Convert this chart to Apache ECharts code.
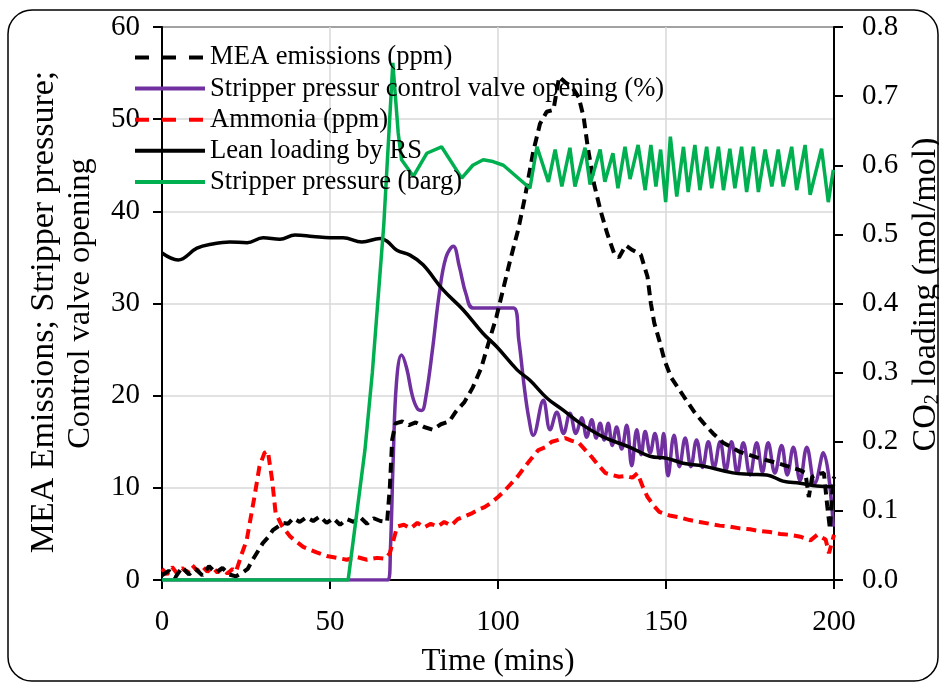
<!DOCTYPE html>
<html>
<head>
<meta charset="utf-8">
<script src="https://cdn.jsdelivr.net/npm/echarts@6/dist/echarts.min.js"></script>
<style>
  html, body { margin: 0; padding: 0; background: #fff; overflow: hidden; }
  #chart { width: 939px; height: 684px; }
</style>
</head>
<body>
<div id="chart"></div>
<script>
// Time axis ticks (mins)
const timeTicks = [0, 50, 100, 150, 200];

// MEA emissions (ppm)
const meaT = [0, 2, 4, 6, 8, 10, 12, 14, 16, 18, 20, 22, 24, 25.5, 27, 28.5, 30, 31.5, 33, 34.5, 36, 37.5, 39, 41, 43, 45, 47, 49, 51, 53, 55, 57, 59, 61, 63, 65, 67, 67.8, 68.5, 69.5, 71.5, 73.5, 75.5, 78, 80.5, 83, 85.5, 87.5, 90, 92.5, 95, 97, 99.5, 101.5, 103.5, 106, 108, 110.5, 112.5, 114.5, 116.5, 118.2, 120, 122, 124, 125.5, 126.7, 128.5, 130.5, 132.5, 134.5, 136, 138, 140, 142.5, 144.5, 145.5, 146.5, 148, 149.5, 151.5, 153.5, 155.5, 158.5, 161, 164, 167, 172, 177, 183, 190, 191.5, 192.5, 193.5, 195, 197, 198, 198.8, 199.5, 200];
const meaV = [0.5, 1.0, 0.3, 1.4, 0.6, 1.2, 0.5, 1.5, 0.8, 1.3, 0.6, 0.4, 0.8, 1.2, 2.2, 3.1, 4.0, 4.6, 5.4, 5.8, 6.2, 6.1, 6.7, 6.3, 6.8, 6.4, 6.9, 6.2, 6.7, 6.0, 6.6, 6.3, 6.8, 6.1, 6.7, 6.4, 6.3, 10.0, 15.2, 17.0, 17.2, 16.8, 17.1, 16.6, 16.3, 16.9, 17.2, 18.3, 19.3, 20.9, 23.0, 25.5, 28.5, 31.5, 34.5, 38.0, 41.5, 46.5, 49.5, 50.8, 51.0, 54.6, 54.0, 53.5, 52.4, 50.2, 47.0, 43.1, 40.1, 37.6, 35.5, 35.0, 36.3, 35.8, 35.3, 32.9, 30.0, 27.9, 26.0, 23.9, 22.0, 20.9, 19.8, 18.2, 17.1, 15.9, 14.9, 13.9, 13.3, 12.7, 11.9, 11.6, 9.0, 11.2, 11.5, 11.6, 8.0, 5.5, 9.5, 11.2];

// Stripper pressure control valve opening (%)
const valveT = [0, 67.3, 68.0, 68.8, 69.8, 71.3, 72.8, 74.5, 76.0, 77.3, 78.5, 80.5, 82.5, 84.5, 86.7, 88.5, 90.5, 92.7, 104.6, 106.2, 107.8, 109.2, 110.5, 113.5, 115.5, 117.5, 119.5, 121.4, 123.2, 124.9, 126.4, 127.9, 129.2, 130.4, 131.6, 132.8, 134.0, 135.3, 136.8, 138.3, 139.8, 141.3, 142.6, 143.8, 145.3, 146.7, 148.2, 149.3, 150.6, 152.4, 154.0, 155.7, 157.4, 159.1, 160.9, 162.6, 164.3, 166.1, 167.8, 169.5, 171.2, 173.0, 175.0, 177.0, 178.7, 180.4, 182.4, 184.4, 186.1, 187.9, 189.9, 191.9, 194.3, 196.8, 199.8];
const valveV = [0, 0, 3.5, 13, 21.5, 24.4, 23, 20, 18.6, 18.4, 19.8, 25, 31, 35, 36.2, 34, 31, 29.5, 29.5, 26, 21, 17.5, 15.7, 19.5, 16.3, 18.2, 15.9, 18.1, 15.9, 17.6, 15.5, 17.4, 15.4, 17.0, 15.2, 17.0, 14.6, 16.6, 14.2, 16.8, 12.4, 16.3, 13.6, 16.1, 13.8, 15.9, 13.2, 15.9, 11.3, 15.7, 12.3, 15.4, 12.3, 15.2, 12.2, 15.0, 12.2, 15.0, 11.9, 15.0, 11.6, 14.9, 11.4, 14.9, 11.7, 14.9, 11.6, 14.6, 11.4, 14.4, 10.8, 14.4, 10.5, 13.8, 5.8];

// Ammonia (ppm)
const nh3T = [0, 1.5, 3, 4.5, 6, 7.5, 9, 10.5, 12, 13.5, 15, 16.5, 18, 19.5, 21, 22, 23.8, 25.2, 27.5, 29, 30.5, 31.5, 32.8, 33.8, 35.8, 38.2, 42, 46, 49, 52, 55, 58, 61, 64, 66.5, 67.8, 70, 72, 74, 76, 78, 80, 82, 84, 86, 88, 90, 92, 94, 96, 98, 100, 102, 104, 106, 108, 110, 112, 114, 116, 118, 120, 122, 124, 126, 128, 130, 132, 134, 136, 138, 140, 141.5, 143, 144.5, 146.5, 148, 151, 154, 157, 160, 163, 166, 169, 172, 175, 178, 181, 184, 187, 190, 193, 195, 197.5, 198.5, 200];
const nh3V = [1.2, 0.6, 1.4, 0.7, 1.3, 0.8, 1.6, 1.0, 1.5, 0.9, 1.4, 0.8, 1.3, 0.7, 1.2, 0.9, 2.9, 4.3, 9.0, 12.3, 13.8, 14.0, 10.8, 7.3, 5.8, 4.7, 3.6, 3.0, 2.6, 2.4, 2.2, 2.5, 2.2, 2.4, 2.3, 2.9, 5.8, 6.0, 5.6, 6.2, 5.7, 6.1, 5.8, 6.3, 5.9, 6.6, 6.9, 7.2, 7.6, 7.9, 8.4, 9.0, 9.7, 10.5, 11.3, 12.3, 13.2, 14.1, 14.4, 15.0, 15.2, 15.4, 15.1, 14.9, 14.1, 13.3, 12.4, 11.6, 11.4, 11.2, 11.3, 11.1, 11.6, 10.2, 9.0, 8.0, 7.4, 7.0, 6.8, 6.5, 6.3, 6.1, 5.9, 5.8, 5.6, 5.5, 5.3, 5.2, 5.0, 4.9, 4.7, 4.3, 4.9, 4.4, 2.9, 4.9];

// Lean loading by RS (mol/mol, right axis)
const leanT = [0, 4.8, 10.4, 15, 20.2, 25.3, 30.1, 35.1, 39.6, 44.9, 50, 53.9, 59.5, 64.9, 67, 69.9, 73.8, 77.7, 83.6, 89.6, 95.5, 99.7, 105.7, 109.5, 114.6, 119.3, 124.4, 131.3, 139.3, 145.2, 150.3, 155.1, 161, 169.9, 175, 180, 184.8, 189.9, 194.9, 199.7];
const leanV = [0.473, 0.463, 0.480, 0.486, 0.489, 0.488, 0.495, 0.493, 0.499, 0.497, 0.495, 0.495, 0.489, 0.494, 0.490, 0.477, 0.470, 0.456, 0.420, 0.391, 0.357, 0.337, 0.304, 0.289, 0.263, 0.246, 0.227, 0.207, 0.192, 0.179, 0.176, 0.169, 0.165, 0.155, 0.153, 0.152, 0.143, 0.140, 0.136, 0.135];

// Stripper pressure (barg)
const pressT = [0, 55.4, 60.4, 62.6, 66.0, 68.7, 70.3, 71.3, 74.8, 78.8, 83.2, 89.2, 92.5, 95.6, 98.5, 101.6, 109.5, 111.6, 115.0, 117.0, 119.0, 121.4, 122.9, 125.9, 127.4, 130.4, 131.8, 134.2, 135.7, 137.8, 139.3, 141.7, 143.8, 145.5, 147.0, 148.4, 149.9, 151.3, 153.2, 155.2, 156.6, 158.6, 160.1, 162.1, 163.6, 165.6, 167.1, 169.0, 170.5, 172.5, 174.0, 176.0, 177.5, 179.5, 181.5, 183.4, 184.9, 187.4, 188.9, 191.4, 192.9, 196.3, 198.3, 199.8];
const pressV = [0, 0, 14.1, 22.5, 38.5, 56.1, 48.5, 45.6, 43.8, 46.3, 47.0, 43.6, 45.0, 45.6, 45.4, 45.0, 42.5, 47.0, 43.2, 46.7, 42.7, 46.9, 42.7, 46.9, 42.9, 46.7, 43.2, 46.3, 42.5, 47.0, 43.5, 47.2, 42.3, 47.2, 42.7, 46.7, 41.0, 48.1, 41.6, 47.0, 42.1, 47.2, 42.3, 47.0, 42.5, 47.0, 42.3, 46.8, 42.5, 47.0, 42.1, 47.0, 42.1, 46.7, 42.7, 46.7, 42.7, 47.0, 42.3, 47.2, 41.8, 46.8, 41.0, 44.5];

const pairs = (t, v) => t.map((x, i) => [x, v[i]]);

const FONT = 'Liberation Serif';
const names = {
  mea: 'MEA emissions (ppm)',
  valve: 'Stripper pressur control valve opening (%)',
  nh3: 'Ammonia (ppm)',
  lean: 'Lean loading by RS',
  press: 'Stripper pressure (barg)'
};

const chart = echarts.init(document.getElementById('chart'), null, { renderer: 'canvas' });

chart.setOption({
  animation: false,
  backgroundColor: '#fff',
  graphic: [{
    type: 'rect',
    z: -10,
    shape: { x: 8, y: 10, width: 930, height: 671, r: 24 },
    style: { fill: 'none', stroke: '#000', lineWidth: 1.5 }
  }],
  grid: {
    left: 162, right: 105, top: 27, bottom: 104,
    outerBoundsMode: 'none', containLabel: false,
    show: true, borderColor: '#000', borderWidth: 2, backgroundColor: 'transparent'
  },
  legend: {
    orient: 'vertical',
    left: 133, top: 44,
    padding: 0,
    itemWidth: 70, itemHeight: 1, itemGap: 4.1,
    lineStyle: { width: 4 },
    textStyle: { fontFamily: FONT, fontSize: 26.6, lineHeight: 26.6, color: '#000' },
    data: [
      { name: names.mea, lineStyle: { width: 4, type: [14, 13] } },
      { name: names.valve },
      { name: names.nh3, lineStyle: { width: 4, type: [14, 13] } },
      { name: names.lean },
      { name: names.press }
    ]
  },
  xAxis: {
    type: 'value', min: 0, max: 200, interval: 50,
    name: 'Time (mins)', nameLocation: 'middle', nameGap: 66,
    nameTextStyle: { fontFamily: FONT, fontSize: 31, color: '#000' },
    axisLine: { lineStyle: { color: '#000', width: 2 } },
    axisTick: { show: true, inside: false, length: 9, lineStyle: { color: '#000', width: 2 } },
    axisLabel: { margin: 28, fontFamily: FONT, fontSize: 29, color: '#000',
      customValues: timeTicks },
    splitLine: { show: true, lineStyle: { color: '#d9d9d9', width: 1.5 } }
  },
  yAxis: [{
    type: 'value', min: 0, max: 60, interval: 10, position: 'left',
    name: '{a|MEA Emissions; Stripper pressure;  }\n{b|Control valve opening}',
    nameLocation: 'middle', nameRotate: 90, nameGap: 64,
    nameTextStyle: {
      fontFamily: FONT, fontSize: 32.5, lineHeight: 36, color: '#000',
      rich: {
        a: { fontFamily: FONT, fontSize: 34, lineHeight: 36, color: '#000' },
        b: { fontFamily: FONT, fontSize: 32.5, lineHeight: 36, color: '#000' }
      }
    },
    axisLine: { show: true, lineStyle: { color: '#000', width: 2 } },
    axisTick: { show: true, length: 9, lineStyle: { color: '#000', width: 2 } },
    axisLabel: { margin: 22, fontFamily: FONT, fontSize: 29, color: '#000' },
    splitLine: { show: true, lineStyle: { color: '#d9d9d9', width: 1.5 } }
  }, {
    type: 'value', min: 0, max: 0.8, interval: 0.1, position: 'right',
    name: 'CO{sub|2} loading (mol/mol)',
    nameLocation: 'middle', nameRotate: 90, nameGap: 64,
    nameTextStyle: {
      fontFamily: FONT, fontSize: 34, lineHeight: 34, color: '#000', padding: [0, 0, 0, 18],
      rich: { sub: { fontFamily: FONT, fontSize: 20, color: '#000', verticalAlign: 'bottom', lineHeight: 14 } }
    },
    axisLine: { show: true, lineStyle: { color: '#000', width: 2 } },
    axisTick: { show: true, length: 9, lineStyle: { color: '#000', width: 2 } },
    axisLabel: { margin: 28, fontFamily: FONT, fontSize: 29, color: '#000', formatter: v => v.toFixed(1) },
    splitLine: { show: false }
  }],
  series: [{
    name: names.valve, type: 'line', yAxisIndex: 0, showSymbol: false, symbol: 'none',
    smooth: 0.4, data: pairs(valveT, valveV),
    lineStyle: { color: '#7030a0', width: 3.5 }, itemStyle: { color: '#7030a0' }
  }, {
    name: names.nh3, type: 'line', yAxisIndex: 0, showSymbol: false, symbol: 'none',
    data: pairs(nh3T, nh3V),
    lineStyle: { color: '#ff0000', width: 4, type: [10, 6] }, itemStyle: { color: '#ff0000' }
  }, {
    name: names.lean, type: 'line', yAxisIndex: 1, showSymbol: false, symbol: 'none',
    smooth: 0.4, data: pairs(leanT, leanV),
    lineStyle: { color: '#000', width: 3.5 }, itemStyle: { color: '#000' }
  }, {
    name: names.mea, type: 'line', yAxisIndex: 0, showSymbol: false, symbol: 'none',
    data: pairs(meaT, meaV),
    lineStyle: { color: '#000', width: 4, type: [10, 6] }, itemStyle: { color: '#000' }
  }, {
    name: names.press, type: 'line', yAxisIndex: 0, showSymbol: false, symbol: 'none',
    data: pairs(pressT, pressV),
    lineStyle: { color: '#00b050', width: 3.5 }, itemStyle: { color: '#00b050' }
  }]
});
</script>
</body>
</html>
